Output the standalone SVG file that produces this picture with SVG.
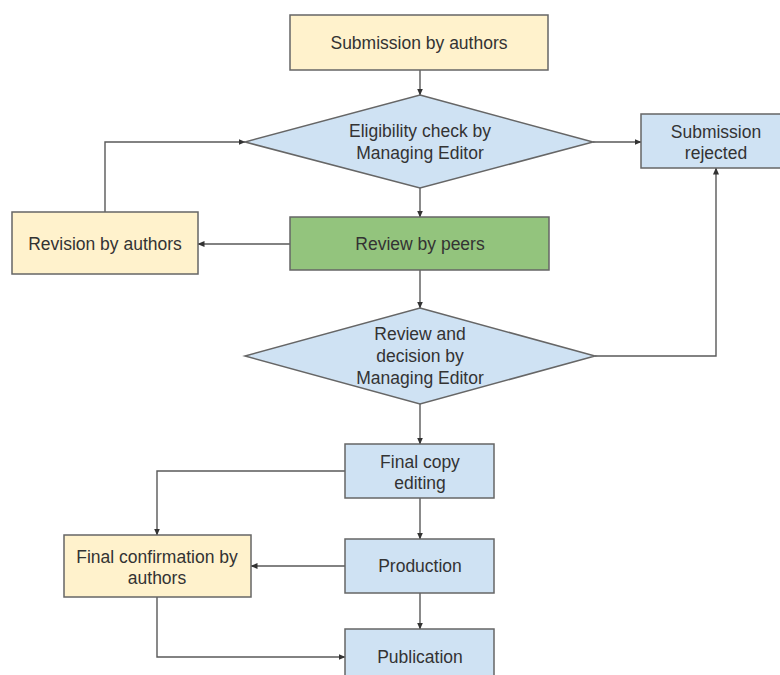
<svg xmlns="http://www.w3.org/2000/svg" width="780" height="675" viewBox="0 0 780 675">
<defs>
<marker id="ah" markerWidth="7" markerHeight="6" refX="6.5" refY="3" orient="auto" markerUnits="userSpaceOnUse">
<path d="M0,0 L7,3 L0,6 z" fill="#333"/>
</marker>
<style>
.box{stroke:#666;stroke-width:1.5}
.y{fill:#fff2cc}
.b{fill:#cfe2f3}
.g{fill:#93c47d}
.t{font-family:"Liberation Sans",Arial,sans-serif;font-size:17.5px;fill:#333;text-anchor:middle}
.c{fill:none;stroke:#595959;stroke-width:1.4;marker-end:url(#ah)}
</style>
</defs>
<rect width="780" height="675" fill="#fff"/>
<g id="connectors">
<path class="c" d="M420,70 V95"/>
<path class="c" d="M593,142 H641"/>
<path class="c" d="M420,188 V217"/>
<path class="c" d="M290,244 H198"/>
<path class="c" d="M105,212 V142 H245"/>
<path class="c" d="M420,270 V308"/>
<path class="c" d="M595,356 H716 V168"/>
<path class="c" d="M420,404 V444"/>
<path class="c" d="M345,471 H157 V535"/>
<path class="c" d="M420,498 V539"/>
<path class="c" d="M345,566 H251"/>
<path class="c" d="M420,593 V629"/>
<path class="c" d="M157,597 V657 H345"/>
</g>
<g id="submission">
<rect class="box y" x="290" y="15" width="258" height="55"/>
<text class="t" x="419" y="49">Submission by authors</text>
</g>
<g id="eligibility">
<polygon class="box b" points="420,95 593,142 420,188 245,142"/>
<text class="t" x="420" y="137">Eligibility check by</text>
<text class="t" x="420" y="159">Managing Editor</text>
</g>
<g id="rejected">
<rect class="box b" x="641" y="114" width="150" height="54"/>
<text class="t" x="716" y="138">Submission</text>
<text class="t" x="716" y="159">rejected</text>
</g>
<g id="revision">
<rect class="box y" x="12" y="212" width="186" height="62"/>
<text class="t" x="105" y="250">Revision by authors</text>
</g>
<g id="peers">
<rect class="box g" x="290" y="217" width="259" height="53"/>
<text class="t" x="420" y="250">Review by peers</text>
</g>
<g id="decision">
<polygon class="box b" points="420,308 595,356 420,404 245,356"/>
<text class="t" x="420" y="340">Review and</text>
<text class="t" x="420" y="362">decision by</text>
<text class="t" x="420" y="384">Managing Editor</text>
</g>
<g id="copyediting">
<rect class="box b" x="345" y="444" width="149" height="54"/>
<text class="t" x="420" y="468">Final copy</text>
<text class="t" x="420" y="489">editing</text>
</g>
<g id="confirmation">
<rect class="box y" x="64" y="535" width="187" height="62"/>
<text class="t" x="157" y="563">Final confirmation by</text>
<text class="t" x="157" y="584">authors</text>
</g>
<g id="production">
<rect class="box b" x="345" y="539" width="149" height="54"/>
<text class="t" x="420" y="572">Production</text>
</g>
<g id="publication">
<rect class="box b" x="345" y="629" width="149" height="54"/>
<text class="t" x="420" y="663">Publication</text>
</g>
</svg>
